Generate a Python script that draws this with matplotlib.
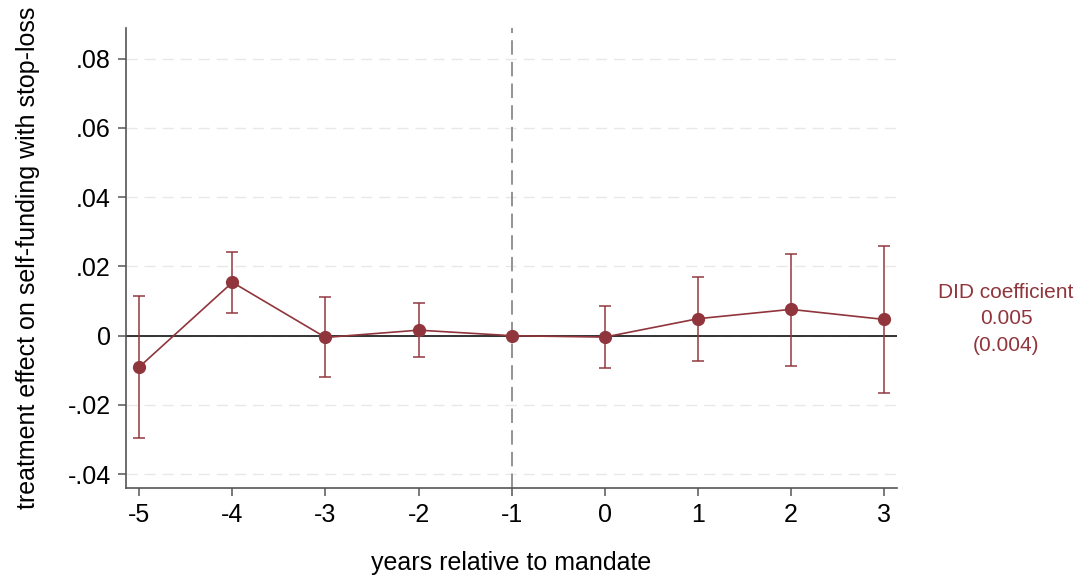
import numpy as np
import matplotlib.pyplot as plt

plt.rcParams['font.family'] = ['Liberation Sans', 'DejaVu Sans']

# event-study estimates
years = [-5, -4, -3, -2, -1, 0, 1, 2, 3]
coef = [-0.0090, 0.0154, -0.0005, 0.0016, 0.0, -0.0004, 0.0049, 0.0076, 0.0047]
ci_high = [0.0115, 0.0242, 0.0111, 0.0095, 0.0, 0.0086, 0.0169, 0.0236, 0.0260]
ci_low = [-0.0295, 0.0065, -0.0119, -0.0062, 0.0, -0.0092, -0.0072, -0.0087, -0.0166]
y_ticks = [-0.04, -0.02, 0, 0.02, 0.04, 0.06, 0.08]
y_tick_labels = ['-.04', '-.02', '0', '.02', '.04', '.06', '.08']
did_text = ['DID coefficient', '0.005', '(0.004)']

red = '#90353b'

fig = plt.figure(figsize=(10.78, 5.79), dpi=100)
ax = fig.add_axes([0.1169, 0.1572, 0.8321 - 0.1169, 0.9516 - 0.1572])

ax.set_xlim(-5.143, 3.14)
ax.set_ylim(-0.04395, 0.0888)

# dashed light grid
for yt in y_ticks:
    ax.axhline(yt, color='#e8e8e8', lw=1.0, dashes=(8, 5), zorder=0)
ax.axhline(0, color='#333333', lw=1.4, zorder=1)
ax.axvline(-1, color='#8a8a8a', lw=1.3, dashes=(8, 4), zorder=1)

# confidence intervals (skip the reference year)
x = np.array(years)
c = np.array(coef)
hi = np.array(ci_high)
lo = np.array(ci_low)
mask = x != -1
ax.errorbar(x[mask], c[mask], yerr=[c[mask] - lo[mask], hi[mask] - c[mask]],
            fmt='none', ecolor=red, elinewidth=1.2, capsize=4, capthick=1.2,
            alpha=0.9, zorder=2)
ax.plot(x, c, color=red, lw=1.2, marker='o', markersize=8.5, zorder=3)

for s in ['top', 'right']:
    ax.spines[s].set_visible(False)
for s in ['left', 'bottom']:
    ax.spines[s].set_color('#555555')
    ax.spines[s].set_linewidth(1.2)

ax.set_xticks(years)
ax.set_xticklabels([str(v) for v in years])
ax.set_yticks(y_ticks)
ax.set_yticklabels(y_tick_labels)
ax.tick_params(axis='both', labelsize=18, length=6, width=1.1, color='#555555', pad=5)

ax.set_xlabel('years relative to mandate', fontsize=18, labelpad=17)
ax.set_ylabel('treatment effect on self-funding with stop-loss', fontsize=18, labelpad=20)

fig.text(1006 / 1078, 1 - 319 / 579, '\n'.join(did_text), color=red, fontsize=15,
         ha='center', va='center', linespacing=1.5)

fig.savefig('out.png', dpi=100)
